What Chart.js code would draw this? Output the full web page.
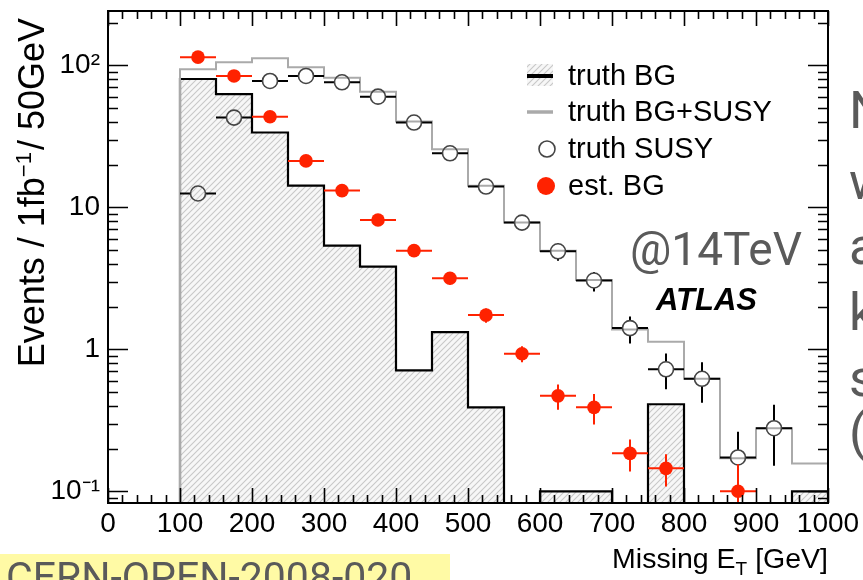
<!DOCTYPE html>
<html>
<head>
<meta charset="utf-8">
<script src="https://cdn.jsdelivr.net/npm/chart.js@4.4.1/dist/chart.umd.min.js"></script>
<style>
  html, body { margin: 0; padding: 0; background: #fff; overflow: hidden; }
  #wrap { position: relative; width: 863px; height: 580px; }
  canvas { display: block; }
</style>
</head>
<body>
<div id="wrap"><canvas id="c" width="863" height="580"></canvas></div>
<script>
// Missing transverse energy, 50 GeV bins from 100 to 1000 GeV (events per 1 fb^-1)
const binLow = [100, 150, 200, 250, 300, 350, 400, 450, 500, 550, 600, 650, 700, 750, 800, 850, 900, 950];
const binWidth = 50;

// truth background (hatched histogram)
const truthBG = [80, 62.7, 33.6, 14.2, 5.37, 3.82, 0.71, 1.32, 0.39, 0, 0.1, 0.1, 0, 0.41, 0, 0, 0, 0.1];
// truth background + SUSY signal (grey outline)
const truthBGSUSY = [93.7, 105, 112, 97, 81.8, 65.2, 40.1, 25.6, 14.2, 7.8, 4.95, 3.08, 1.38, 1.13, 0.62, 0.171, 0.278, 0.157];
// truth SUSY (open circles) with statistical errors
const truthSUSY = [12.5, 42.8, 77.5, 84.1, 75.9, 60.1, 39.5, 24.0, 14.0, 7.8, 4.9, 3.05, 1.41, 0.723, 0.62, 0.173, 0.278, null];
const truthSUSYErrUp = [0.6, 1.2, 1.6, 1.7, 1.6, 1.5, 1.3, 1.2, 1.0, 0.8, 0.7, 0.45, 0.29, 0.21, 0.19, 0.09, 0.128, null];
const truthSUSYErrDown = [0.6, 1.2, 1.6, 1.7, 1.6, 1.5, 1.3, 1.2, 1.0, 0.8, 0.7, 0.5, 0.31, 0.2, 0.2, 0.07, 0.127, null];
// estimated background (red points) with statistical errors
const estBG = [114, 84.1, 43.4, 21.2, 13.1, 8.14, 4.95, 3.16, 1.74, 0.93, 0.47, 0.39, 0.185, 0.145, null, 0.1, null, null];
const estBGErr = [2.5, 2.0, 1.4, 1.0, 0.8, 0.6, 0.45, 0.3, 0.2, 0.12, 0.095, 0.095, 0.047, 0.037, null, 0.055, null, null];

// axis ranges and tick labels
const xRange = [0, 1000];
const yRange = [0.0827, 241];
const xTickLabels = ['0', '100', '200', '300', '400', '500', '600', '700', '800', '900', '1000'];
const yTickValues = [0.1, 1, 10, 100];
const yTickLabels = ['10\u207B\u00B9', '1', '10', '10\u00B2'];

const legendLabels = ['truth BG', 'truth BG+SUSY', 'truth SUSY', 'est. BG'];

const FONT = '"Liberation Sans", Arial, Helvetica, sans-serif';
const NOTE_FONT = 'Roboto, "Noto Sans", sans-serif';
const RED = '#ff2200';
const GREY = '#aaaaaa';

const canvas = document.getElementById('c');
const ctx0 = canvas.getContext('2d');

function makeHatch(ctx) {
  const s = 6;
  const c = document.createElement('canvas');
  c.width = s; c.height = s;
  const g = c.getContext('2d');
  g.fillStyle = '#f7f7f7';
  g.fillRect(0, 0, s, s);
  g.strokeStyle = '#c8c8c8';
  g.lineWidth = 1.1;
  g.beginPath();
  g.moveTo(-1, s + 1); g.lineTo(s + 1, -1);
  g.moveTo(-1, 1); g.lineTo(1, -1);
  g.moveTo(s - 1, s + 1); g.lineTo(s + 1, s - 1);
  g.stroke();
  return ctx.createPattern(c, 'repeat');
}
const hatch = makeHatch(ctx0);

// step-histogram outline points: left edge at the floor, one point per bin, closing edge
function histPoints(values) {
  const n = values.length;
  const pts = [{ x: binLow[0], y: 0 }];
  values.forEach((v, i) => pts.push({ x: binLow[i], y: v }));
  pts.push({ x: binLow[n - 1] + binWidth, y: values[n - 1] });
  pts.push({ x: binLow[n - 1] + binWidth, y: 0 });
  return pts;
}

function pointData(values, up, down) {
  const out = [];
  values.forEach((v, i) => {
    if (v === null) return;
    out.push({ x: binLow[i] + binWidth / 2, y: v, up: up[i], dn: down[i] });
  });
  return out;
}

const errorBarPlugin = {
  id: 'errorBars',
  beforeDatasetDraw(chart, args) {
    const ds = chart.data.datasets[args.index];
    if (!ds.errorBars) return;
    const { ctx, chartArea: a, scales: { x, y } } = chart;
    ctx.save();
    ctx.beginPath();
    ctx.rect(a.left, a.top, a.width, a.height);
    ctx.clip();
    ctx.strokeStyle = ds.errorBars.color;
    ctx.lineWidth = ds.errorBars.width;
    const gap = ds.errorBars.gap;
    ds.data.forEach(p => {
      const cx = x.getPixelForValue(p.x);
      const cy = y.getPixelForValue(p.y);
      const xl = x.getPixelForValue(p.x - binWidth / 2);
      const xr = x.getPixelForValue(p.x + binWidth / 2);
      const yt = y.getPixelForValue(p.y + p.up);
      const lo = p.y - p.dn;
      const yb = lo > 0 ? y.getPixelForValue(lo) : a.bottom + 10;
      ctx.beginPath();
      ctx.moveTo(xl, cy); ctx.lineTo(cx - gap, cy);
      ctx.moveTo(cx + gap, cy); ctx.lineTo(xr, cy);
      if (yt < cy - gap) { ctx.moveTo(cx, cy - gap); ctx.lineTo(cx, yt); }
      if (yb > cy + gap) { ctx.moveTo(cx, cy + gap); ctx.lineTo(cx, yb); }
      ctx.stroke();
    });
    ctx.restore();
  }
};

const framePlugin = {
  id: 'frameAndText',
  afterDraw(chart) {
    const { ctx, chartArea: a, scales: { x, y } } = chart;
    ctx.save();

    // inward ticks on all four sides
    ctx.strokeStyle = '#000';
    ctx.lineWidth = 1.6;
    ctx.beginPath();
    for (let v = xRange[0]; v <= xRange[1]; v += 20) {
      const px = Math.round(x.getPixelForValue(v)) + 0.5;
      const len = v % 100 === 0 ? 15 : 8;
      ctx.moveTo(px, a.bottom); ctx.lineTo(px, a.bottom - len);
      ctx.moveTo(px, a.top); ctx.lineTo(px, a.top + len);
    }
    for (let e = -2; e <= 3; e++) {
      for (let m = 1; m <= 9; m++) {
        const v = m * Math.pow(10, e);
        if (v < yRange[0] || v > yRange[1]) continue;
        const py = Math.round(y.getPixelForValue(v)) + 0.5;
        const len = m === 1 ? 20 : 10;
        ctx.moveTo(a.left, py); ctx.lineTo(a.left + len, py);
        ctx.moveTo(a.right, py); ctx.lineTo(a.right - len, py);
      }
    }
    ctx.stroke();
    ctx.lineWidth = 2;
    ctx.strokeRect(a.left, a.top, a.width, a.height);

    // y-axis title (rotated)
    ctx.fillStyle = '#000';
    const fs = 36;
    ctx.save();
    ctx.translate(43.5, 18);
    ctx.rotate(-Math.PI / 2);
    ctx.textBaseline = 'alphabetic';
    ctx.textAlign = 'left';
    const p1 = 'Events / 1fb', p2 = '\u22121', p3 = '/ 50GeV';
    ctx.font = fs + 'px ' + FONT;
    const w1 = ctx.measureText(p1).width, w3 = ctx.measureText(p3).width;
    ctx.font = '22px ' + FONT;
    const w2 = ctx.measureText(p2).width;
    let sx = -(w1 + w2 + w3 + 2);
    ctx.font = fs + 'px ' + FONT;
    ctx.fillText(p1, sx, 0); sx += w1;
    ctx.font = '22px ' + FONT;
    ctx.fillText(p2, sx, -13); sx += w2 + 2;
    ctx.font = fs + 'px ' + FONT;
    ctx.fillText(p3, sx, 0);
    ctx.restore();

    // x-axis title with subscript
    ctx.textBaseline = 'alphabetic';
    ctx.textAlign = 'left';
    const t1 = 'Missing E', t2 = 'T', t3 = ' [GeV]';
    ctx.font = '28.5px ' + FONT;
    const a1 = ctx.measureText(t1).width, a3 = ctx.measureText(t3).width;
    ctx.font = '19px ' + FONT;
    const a2 = ctx.measureText(t2).width;
    let tx = a.right - (a1 + a2 + a3);
    ctx.font = '28.5px ' + FONT;
    ctx.fillText(t1, tx, 568); tx += a1;
    ctx.font = '19px ' + FONT;
    ctx.fillText(t2, tx, 575); tx += a2;
    ctx.font = '28.5px ' + FONT;
    ctx.fillText(t3, tx, 568);

    // legend
    const lx0 = 527, lx1 = 553, tX = 568;
    const rows = [76, 112, 149, 186];
    ctx.fillStyle = hatch;
    ctx.fillRect(lx0, 64, lx1 - lx0, 22);
    ctx.strokeStyle = '#000';
    ctx.lineWidth = 4;
    ctx.beginPath(); ctx.moveTo(lx0, rows[0]); ctx.lineTo(lx1, rows[0]); ctx.stroke();
    ctx.strokeStyle = GREY;
    ctx.lineWidth = 3.5;
    ctx.beginPath(); ctx.moveTo(lx0, rows[1]); ctx.lineTo(lx1, rows[1]); ctx.stroke();
    ctx.strokeStyle = '#444';
    ctx.lineWidth = 1.6;
    ctx.beginPath(); ctx.arc(547, rows[2], 8, 0, Math.PI * 2); ctx.stroke();
    ctx.fillStyle = RED;
    ctx.beginPath(); ctx.arc(546, rows[3], 9, 0, Math.PI * 2); ctx.fill();
    ctx.fillStyle = '#000';
    ctx.font = '29px ' + FONT;
    ctx.textBaseline = 'middle';
    legendLabels.forEach((lab, i) => ctx.fillText(lab, tX, rows[i] + 1));

    // experiment label
    ctx.font = 'italic bold 31px ' + FONT;
    ctx.textBaseline = 'alphabetic';
    ctx.fillText('ATLAS', 656, 310);

    // energy note
    ctx.fillStyle = '#5a5a5a';
    ctx.font = '46px ' + NOTE_FONT;
    ctx.fillText('@14TeV', 630, 265);

    // side caption, running off the right edge
    ctx.font = '52px ' + NOTE_FONT;
    const side = ['N', 'w', 'a', 'k', 's', '('];
    const sideY = [128, 199, 264, 330, 396, 450];
    side.forEach((s, i) => ctx.fillText(s, 849, sideY[i]));

    // document reference
    ctx.fillStyle = '#fffaa5';
    ctx.fillRect(0, 554, 450, 26);
    ctx.fillStyle = '#5a5a5a';
    ctx.font = '41px ' + NOTE_FONT;
    ctx.fillText('CERN-OPEN-2008-020', 6, 591);

    ctx.restore();
  }
};

new Chart(canvas, {
  type: 'scatter',
  data: {
    datasets: [
      {
        label: legendLabels[3],
        data: pointData(estBG, estBGErr, estBGErr),
        pointStyle: 'circle',
        pointRadius: 6.8,
        pointBackgroundColor: RED,
        pointBorderColor: RED,
        pointBorderWidth: 0,
        errorBars: { color: RED, width: 2, gap: 0 },
        order: 1
      },
      {
        label: legendLabels[2],
        data: pointData(truthSUSY, truthSUSYErrUp, truthSUSYErrDown),
        pointStyle: 'circle',
        pointRadius: 7.5,
        pointBackgroundColor: 'rgba(0,0,0,0)',
        pointBorderColor: '#444',
        pointBorderWidth: 1.6,
        errorBars: { color: '#000', width: 2, gap: 7.5 },
        order: 2
      },
      {
        type: 'line',
        label: legendLabels[1],
        data: histPoints(truthBGSUSY),
        parsing: false,
        stepped: true,
        borderColor: GREY,
        borderWidth: 2,
        pointRadius: 0,
        fill: false,
        order: 3
      },
      {
        type: 'line',
        label: legendLabels[0],
        data: histPoints(truthBG),
        parsing: false,
        stepped: true,
        borderColor: '#000',
        borderWidth: 2.2,
        backgroundColor: hatch,
        pointRadius: 0,
        fill: 'start',
        order: 4
      }
    ]
  },
  options: {
    responsive: false,
    animation: false,
    events: [],
    layout: { padding: { left: 0, right: 35, top: 11, bottom: 0 } },
    plugins: { legend: { display: false }, tooltip: { enabled: false } },
    scales: {
      x: {
        type: 'linear',
        min: xRange[0],
        max: xRange[1],
        grid: { display: false, drawTicks: false },
        border: { display: false },
        ticks: {
          stepSize: 100,
          autoSkip: false,
          maxRotation: 0,
          padding: 4,
          color: '#000',
          font: { family: FONT, size: 28 },
          callback: v => xTickLabels[Math.round(v / 100)] ?? ''
        },
        afterFit(s) { s.height = 77; s.paddingLeft = 0; s.paddingRight = 0; }
      },
      y: {
        type: 'logarithmic',
        min: yRange[0],
        max: yRange[1],
        grid: { display: false, drawTicks: false },
        border: { display: false },
        ticks: {
          autoSkip: false,
          padding: 8,
          color: '#000',
          font: { family: FONT, size: 28 },
          callback: v => {
            const i = yTickValues.findIndex(t => Math.abs(t - v) / t < 1e-6);
            return i >= 0 ? yTickLabels[i] : '';
          }
        },
        afterFit(s) { s.width = 108; s.paddingTop = 0; s.paddingBottom = 0; }
      }
    }
  },
  plugins: [errorBarPlugin, framePlugin]
});
</script>
</body>
</html>
